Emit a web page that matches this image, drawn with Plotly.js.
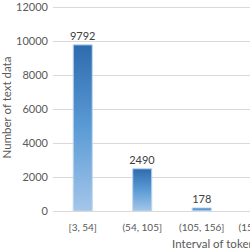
<!DOCTYPE html>
<html>
<head>
<meta charset="utf-8">
<script src="https://cdn.plot.ly/plotly-3.0.1.min.js"></script>
<style>
html, body { margin: 0; padding: 0; width: 250px; height: 250px; overflow: hidden; background: #fff; }
#chart { width: 379px; height: 250px; }
</style>
</head>
<body>
<div id="chart"></div>
<script>
const categories = ["[3, 54]", "(54, 105]", "(105, 156]", "(156, 207]"];
const counts = [9792, 2490, 178, 20];
const yTicks = [0, 2000, 4000, 6000, 8000, 10000, 12000];

const fontFamily = "Lato, 'Open Sans', sans-serif";

const trace = {
  type: "bar",
  x: categories,
  y: counts,
  text: counts.map(String),
  textposition: "outside",
  constraintext: "none",
  cliponaxis: false,
  textfont: { family: fontFamily, size: 11, color: "#404040" },
  marker: { color: "#5B9BD5", line: { color: "#BDD7EE", width: 1 } },
  hoverinfo: "none"
};

const layout = {
  width: 379,
  height: 250,
  margin: { l: 53, r: 0, t: 4, b: 39 },
  paper_bgcolor: "#ffffff",
  plot_bgcolor: "#ffffff",
  bargap: 0.68,
  showlegend: false,
  font: { family: fontFamily, size: 11, color: "#595959" },
  xaxis: {
    type: "category",
    range: [-0.5, 4.98],
    autorange: false,
    showgrid: false,
    zeroline: false,
    showline: false,
    ticks: "",
    tickfont: { family: fontFamily, size: 10, color: "#595959" },
    ticklabelstandoff: 9,
    title: { text: "Interval of tokens", font: { family: fontFamily, size: 11.5, color: "#595959" }, standoff: 7 }
  },
  yaxis: {
    range: [0, 12200],
    autorange: false,
    tickvals: yTicks,
    ticktext: yTicks.map(String),
    showgrid: true,
    gridcolor: "#D9D9D9",
    gridwidth: 1,
    zeroline: true,
    zerolinecolor: "#D9D9D9",
    zerolinewidth: 1,
    showline: false,
    ticks: "",
    tickfont: { family: fontFamily, size: 11, color: "#595959" },
    ticklabelstandoff: 4,
    title: { text: "Number of text data", font: { family: fontFamily, size: 11.5, color: "#595959" }, standoff: 8 }
  }
};

Plotly.newPlot("chart", [trace], layout, { staticPlot: true, displayModeBar: false }).then(function (gd) {
  const svgNS = "http://www.w3.org/2000/svg";
  const svg = gd.querySelector(".main-svg");
  let defs = svg.querySelector("defs");
  if (!defs) { defs = document.createElementNS(svgNS, "defs"); svg.insertBefore(defs, svg.firstChild); }
  const grad = document.createElementNS(svgNS, "linearGradient");
  grad.setAttribute("id", "barGrad");
  grad.setAttribute("x1", "0"); grad.setAttribute("y1", "0");
  grad.setAttribute("x2", "0"); grad.setAttribute("y2", "1");
  [["0%", "#2E6BAE"], ["50%", "#5B9BD5"], ["100%", "#A4C6EA"]].forEach(function (s) {
    const st = document.createElementNS(svgNS, "stop");
    st.setAttribute("offset", s[0]);
    st.setAttribute("stop-color", s[1]);
    grad.appendChild(st);
  });
  defs.appendChild(grad);
  gd.querySelectorAll(".barlayer .point path").forEach(function (p) {
    p.style.fill = "url(#barGrad)";
  });
});
</script>
</body>
</html>
